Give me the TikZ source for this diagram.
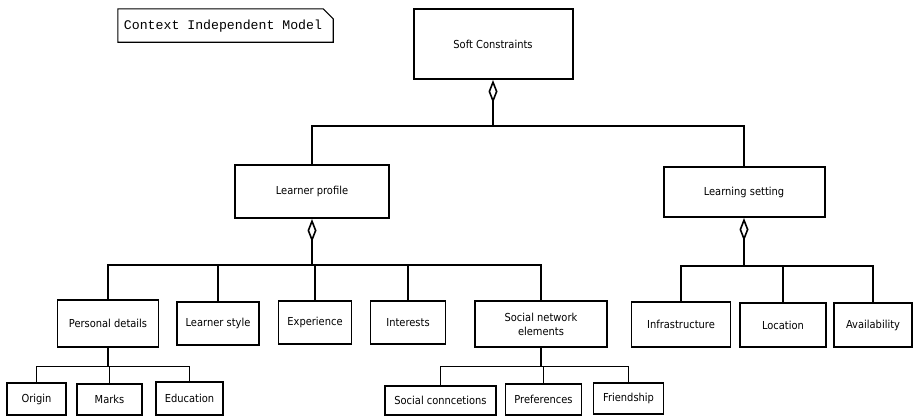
\documentclass[tikz,border=0pt]{standalone}
\usepackage{fontspec}
\setmainfont{DejaVu Sans}[FakeStretch=0.9]
\newfontfamily\notefont{Liberation Mono}
\usetikzlibrary{arrows.meta}
\tikzset{
  x=1pt, y=-1pt,
  bigbox/.style={draw, line width=2pt, inner sep=0pt, align=center, font=\fontsize{11}{13}\selectfont},
  midbox/.style={bigbox, line width=1.6pt},
  smallbox/.style={draw, line width=1.3pt, inner sep=0pt, align=center, font=\fontsize{11}{13}\selectfont},
  mainconn/.style={line width=2pt},
  subconn/.style={line width=1.3pt},
  agg/.style={line width=2pt, {Diamond[open, length=23pt, width=9pt, line width=1.6pt]}-},
  notebox/.style={line width=1.1pt},
  notetext/.style={inner sep=0pt, font=\notefont\fontsize{13.2}{15}\selectfont}
}
\begin{document}
\begin{tikzpicture}
\useasboundingbox (0,0) rectangle (914,416);

% note
\node[notetext, minimum width=215pt, minimum height=33pt] (note) at (225.5,25.5) {};
\node[notetext] (notelabel) at (223,26) {Context Independent Model};
\draw[notebox] (note.south west) -- (note.north west) -- ([xshift=-10pt]note.north east) -- ([yshift=-10pt]note.north east) -- (note.south east) -- cycle;

% main boxes
\node[bigbox, minimum width=159pt, minimum height=70pt] (sc) at (493,44) {Soft Constraints};
\node[bigbox, minimum width=154pt, minimum height=53pt] (lp) at (312,191.5) {Learner profile};
\node[bigbox, minimum width=161pt, minimum height=50pt] (ls) at (744,192) {Learning setting};

% second level
\node[midbox, minimum width=101pt, minimum height=47pt] (pd) at (108,323.5) {Personal details};
\node[midbox, minimum width=82pt, minimum height=43pt] (lst) at (218,323.5) {Learner style};
\node[midbox, minimum width=73pt, minimum height=43pt] (ex) at (315,322.5) {Experience};
\node[midbox, minimum width=75pt, minimum height=43pt] (int) at (408,322.5) {Interests};
\node[midbox, minimum width=132pt, minimum height=46pt] (sne) at (541,324) {Social network\\[1pt]elements};
\node[midbox, minimum width=99pt, minimum height=45pt] (inf) at (681,324.5) {Infrastructure};
\node[midbox, minimum width=86pt, minimum height=44pt] (loc) at (783,325) {Location};
\node[midbox, minimum width=78pt, minimum height=44pt] (av) at (873,325) {Availability};

% third level
\node[smallbox, minimum width=59pt, minimum height=32pt] (or) at (36.5,399) {Origin};
\node[smallbox, minimum width=65pt, minimum height=31pt] (mk) at (109.5,399.5) {Marks};
\node[smallbox, minimum width=67pt, minimum height=33pt] (ed) at (189.5,398.5) {Education};
\node[smallbox, minimum width=111pt, minimum height=29pt] (scn) at (440.5,400.5) {Social conncetions};
\node[smallbox, minimum width=76pt, minimum height=31pt] (pf) at (543.5,399.5) {Preferences};
\node[smallbox, minimum width=70pt, minimum height=31pt] (fr) at (628.5,398.5) {Friendship};

% bar coordinates
\coordinate (b0) at (493,126);
\coordinate (b1) at (312,265);
\coordinate (b2) at (744,266);
\coordinate (b3) at (108,366.5);
\coordinate (b4) at (541,366.5);

% top level
\draw[agg] (sc.south) -- (b0);
\draw[mainconn] (b0) -| (lp.north);
\draw[mainconn] (b0) -| (ls.north);

% learner profile
\draw[agg] (lp.south) -- (b1);
\draw[mainconn] (b1) -| (pd.north);
\draw[mainconn] (b1) -| (lst.north);
\draw[mainconn] (b1) -| (ex.north);
\draw[mainconn] (b1) -| (int.north);
\draw[mainconn] (b1) -| (sne.north);

% learning setting
\draw[agg] (ls.south) -- (b2);
\draw[mainconn] (b2) -| (inf.north);
\draw[mainconn] (b2) -| (loc.north);
\draw[mainconn] (b2) -| (av.north);

% personal details
\draw[subconn] (pd.south) -- (b3);
\draw[subconn] (b3) -| (or.north);
\draw[subconn] (b3) -| (mk.north);
\draw[subconn] (b3) -| (ed.north);

% social network elements
\draw[subconn] (sne.south) -- (b4);
\draw[subconn] (b4) -| (scn.north);
\draw[subconn] (b4) -| (pf.north);
\draw[subconn] (b4) -| (fr.north);
\end{tikzpicture}
\end{document}
